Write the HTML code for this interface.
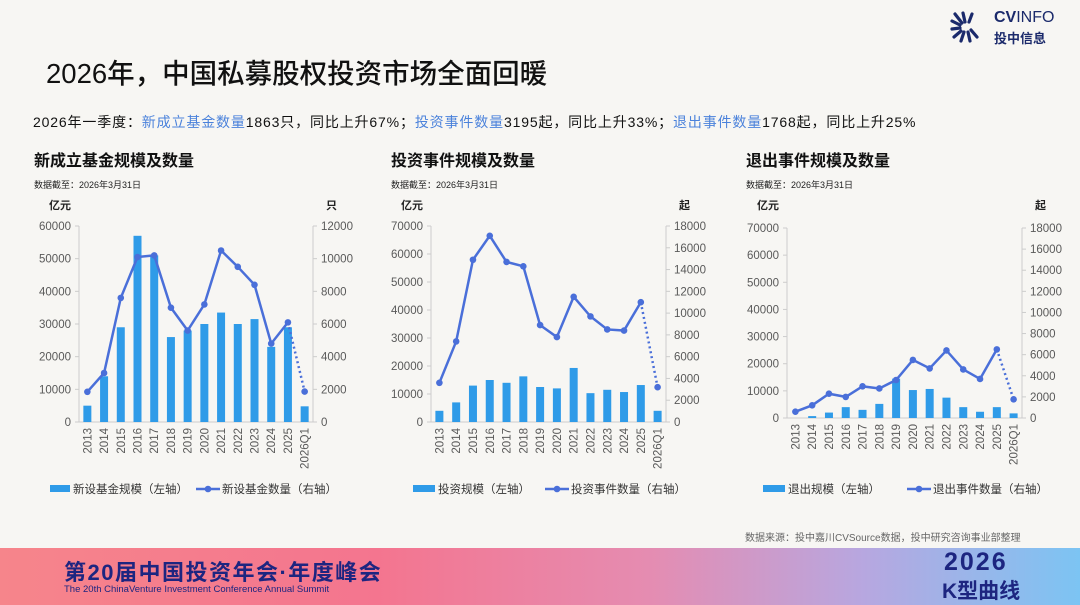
<!DOCTYPE html>
<html><head><meta charset="utf-8">
<style>
body{margin:0;width:1080px;height:605px;overflow:hidden;background:#f7f6f3;font-family:"Liberation Sans","Noto Sans CJK SC",sans-serif;position:relative;color:#111}
.abs{position:absolute;white-space:nowrap}
.hl{color:#4b82db}
</style></head><body>
<div class="abs" style="left:46px;top:51px;font-size:27.5px;font-weight:500">2026年，中国私募股权投资市场全面回暖</div>
<div class="abs" style="left:950px;top:8px;width:120px;height:36px">
  <svg width="34" height="34" viewBox="0 0 34 34" style="position:absolute;left:0;top:2px">
    <g stroke="#1b2a6b" stroke-width="3.2" stroke-linecap="round">
      <line x1="12" y1="13" x2="5" y2="4"/><line x1="10" y1="15" x2="2" y2="11"/><line x1="10" y1="18" x2="2" y2="19"/>
      <line x1="11" y1="21" x2="4" y2="27"/><line x1="14" y1="22" x2="11" y2="31"/><line x1="18" y1="22" x2="20" y2="31"/>
      <line x1="21" y1="20" x2="27" y2="27"/><line x1="15" y1="12" x2="13" y2="3"/><line x1="19" y1="12" x2="22" y2="4"/>
    </g></svg>
  <div class="abs" style="left:44px;top:1px;font-size:16px;color:#1b2a6b;font-weight:bold">CV<span style="font-weight:normal">INFO</span></div>
  <div class="abs" style="left:44px;top:20px;font-size:13px;color:#1b2a6b;font-weight:bold">投中信息</div>
</div>
<div class="abs" style="left:33px;top:112px;font-size:14px;letter-spacing:0.85px">2026年一季度：<span class="hl">新成立基金数量</span>1863只，同比上升67%；<span class="hl">投资事件数量</span>3195起，同比上升33%；<span class="hl">退出事件数量</span>1768起，同比上升25%</div>

<svg id="charts" width="1080" height="540" style="position:absolute;left:0;top:0"></svg>

<div class="abs" style="left:745px;top:529px;font-size:10px;color:#666">数据来源：投中嘉川CVSource数据，投中研究咨询事业部整理</div>
<div class="abs" style="left:0;top:548px;width:1080px;height:57px;background:linear-gradient(90deg,#f6858b 0%,#f4758f 35%,#e58cb1 60%,#b7a7e0 80%,#7cc4f3 100%)">
  <div class="abs" style="left:64px;top:7px;font-size:22px;font-weight:bold;color:#1d2580;letter-spacing:1.5px">第20届中国投资年会·年度峰会</div>
  <div class="abs" style="left:64px;top:36px;font-size:9.5px;color:#1d2580">The 20th ChinaVenture Investment Conference Annual Summit</div>
  <div class="abs" style="left:944px;top:0px;font-size:25px;font-weight:bold;color:#1d2580;letter-spacing:2px">2026</div>
  <div class="abs" style="left:942px;top:27px;font-size:21px;font-weight:bold;color:#1d2580">K型曲线</div>
</div>

<script>
const categories=["2013","2014","2015","2016","2017","2018","2019","2020","2021","2022","2023","2024","2025","2026Q1"];
const fundScale=[5000,14000,29000,57000,51000,26000,28000,30000,33500,30000,31500,23000,29000,4800];
const fundCount=[1850,3000,7600,10100,10200,7000,5600,7200,10500,9500,8400,4800,6100,1863];
const investScale=[4000,7000,13000,15000,14000,16300,12500,12000,19300,10300,11500,10700,13200,4000];
const investCount=[3600,7400,14900,17100,14700,14300,8900,7800,11500,9700,8500,8400,11000,3195];
const exitScale=[0,700,2000,4000,3000,5200,14500,10300,10700,7500,4000,2300,4000,1700];
const exitCount=[600,1200,2300,2000,3000,2800,3600,5500,4700,6400,4600,3700,6500,1768];
const leftTicks1=[0,10000,20000,30000,40000,50000,60000];
const rightTicks1=[0,2000,4000,6000,8000,10000,12000];
const leftTicks2=[0,10000,20000,30000,40000,50000,60000,70000];
const rightTicks2=[0,2000,4000,6000,8000,10000,12000,14000,16000,18000];

const svg=document.getElementById('charts');
const NS='http://www.w3.org/2000/svg';
function mk(tag,attrs,parent){const e=document.createElementNS(NS,tag);for(const k in attrs)e.setAttribute(k,attrs[k]);(parent||svg).appendChild(e);return e;}
function txt(x,y,s,attrs,parent){const t=mk('text',Object.assign({x:x,y:y,'font-size':11.5,fill:'#595959','font-family':'"Liberation Sans","Noto Sans CJK SC",sans-serif'},attrs),parent);t.textContent=s;return t;}

function chart(c){
  const g=mk('g',{});
  
  
  const t=txt(c.tx,166,c.title,{'font-size':16,fill:'#111','font-weight':'bold'},g);
  
  
  const d=txt(c.tx,188,'数据截至：2026年3月31日',{'font-size':9,fill:'#222'},g);
  
  
  txt(c.x0-30,209,'亿元',{'font-size':11,fill:'#222','font-weight':'bold'},g);
  txt(c.x1+13,209,c.runit,{'font-size':11,fill:'#222','font-weight':'bold'},g);
  const lmax=c.lt[c.lt.length-1],rmax=c.rt[c.rt.length-1];
  const yl=v=>c.yb-(v/lmax)*(c.yb-c.yt);
  const yr=v=>c.yb-(v/rmax)*(c.yb-c.yt);
  const step=(c.x1-c.x0)/categories.length;
  const xc=i=>c.x0+step*(i+0.5);
  mk('line',{x1:c.x0,y1:c.yt,x2:c.x0,y2:c.yb,stroke:'#ccc'},g);
  mk('line',{x1:c.x1,y1:c.yt,x2:c.x1,y2:c.yb,stroke:'#ccc'},g);
  mk('line',{x1:c.x0,y1:c.yb,x2:c.x1,y2:c.yb,stroke:'#ccc'},g);
  c.lt.forEach(v=>{mk('line',{x1:c.x0-4,x2:c.x0,y1:yl(v),y2:yl(v),stroke:'#ccc'},g);txt(c.x0-8,yl(v)+4,String(v),{'text-anchor':'end'},g);});
  c.rt.forEach(v=>{mk('line',{x1:c.x1,x2:c.x1+4,y1:yr(v),y2:yr(v),stroke:'#ccc'},g);txt(c.x1+8,yr(v)+4,String(v),{},g);});
  categories.forEach((cat,i)=>{
    const b=mk('rect',{x:xc(i)-4,y:yl(c.bars[i]),width:8,height:c.yb-yl(c.bars[i]),fill:'#2f9be8'},g);
    
    
    txt(0,0,cat,{'text-anchor':'end',transform:`translate(${xc(i)+4},${c.yb+6}) rotate(-90)`},g);
  });
  let p='';
  for(let i=0;i<categories.length-1;i++)p+=(i?'L':'M')+xc(i)+','+yr(c.line[i]);
  const ln=mk('path',{d:p,fill:'none',stroke:'#4a6fd9','stroke-width':2.5},g);
  
  
  const n=categories.length;
  mk('line',{x1:xc(n-2),y1:yr(c.line[n-2]),x2:xc(n-1),y2:yr(c.line[n-1]),stroke:'#4a6fd9','stroke-width':2.5,'stroke-dasharray':'2,3'},g);
  c.line.forEach((v,i)=>{const pt=mk('circle',{cx:xc(i),cy:yr(v),r:3.3,fill:'#4a6fd9'},g);
    
    });
  const ly=489;
  const lg=mk('g',{},g);
  
  
  mk('rect',{x:c.lx,y:ly-4,width:c.lw,height:7,fill:'#2f9be8'},lg);
  txt(c.lx+c.lw+3,ly+4,c.bl,{fill:'#333','font-size':11.5},lg);
  mk('line',{x1:c.lx2,x2:c.lx2+24,y1:ly,y2:ly,stroke:'#4a6fd9','stroke-width':2.5},lg);
  mk('circle',{cx:c.lx2+12,cy:ly,r:3.3,fill:'#4a6fd9'},lg);
  txt(c.lx2+26,ly+4,c.ll,{fill:'#333','font-size':11.5},lg);
}
chart({name:'fund-chart',title:'新成立基金规模及数量',tx:34,x0:79,x1:313,yt:226,yb:422,lt:leftTicks1,rt:rightTicks1,bars:fundScale,line:fundCount,runit:'只',lx:50,lw:20,bl:'新设基金规模（左轴）',lx2:196,ll:'新设基金数量（右轴）'});
chart({name:'invest-chart',title:'投资事件规模及数量',tx:391,x0:431,x1:666,yt:226,yb:422,lt:leftTicks2,rt:rightTicks2,bars:investScale,line:investCount,runit:'起',lx:413,lw:22,bl:'投资规模（左轴）',lx2:545,ll:'投资事件数量（右轴）'});
chart({name:'exit-chart',title:'退出事件规模及数量',tx:746,x0:787,x1:1022,yt:228,yb:418,lt:leftTicks2,rt:rightTicks2,bars:exitScale,line:exitCount,runit:'起',lx:763,lw:22,bl:'退出规模（左轴）',lx2:907,ll:'退出事件数量（右轴）'});
</script>
</body></html>
